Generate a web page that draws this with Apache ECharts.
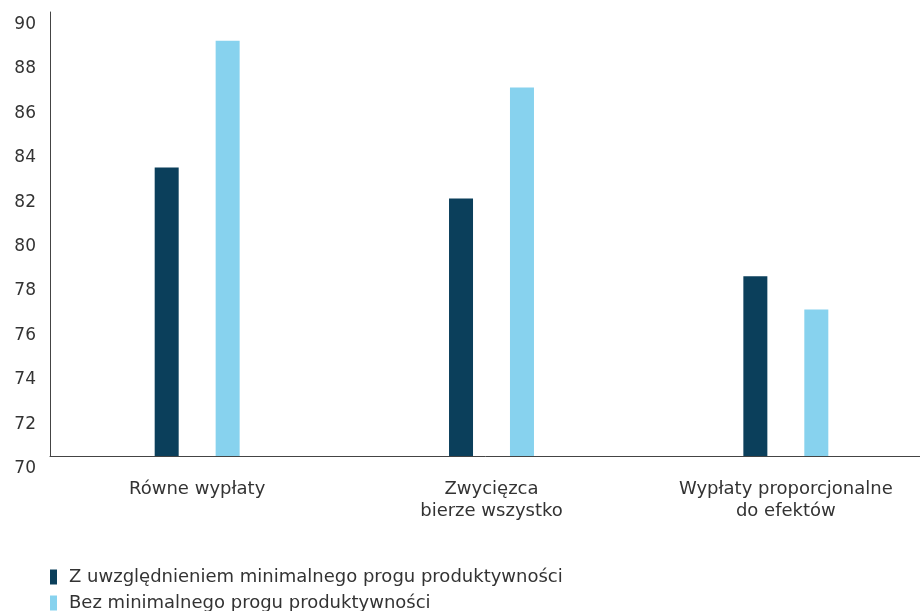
<!DOCTYPE html>
<html>
<head>
<meta charset="utf-8">
<script src="https://cdn.jsdelivr.net/npm/echarts@6/dist/echarts.min.js"></script>
<style>
  html, body { margin: 0; padding: 0; background: #fff; }
  #chart { width: 920px; height: 611px; }
</style>
</head>
<body>
<div id="chart"></div>
<script>
const categories = ['Równe wypłaty', 'Zwycięzca\nbierze wszystko', 'Wypłaty proporcjonalne\ndo efektów'];
const seriesNames = ['Z uwzględnieniem minimalnego progu produktywności', 'Bez minimalnego progu produktywności'];
const withThreshold = [83.0, 81.6, 78.1];
const withoutThreshold = [88.7, 86.6, 76.6];

const FONT = 'DejaVu Sans';
const myChart = echarts.init(document.getElementById('chart'));

// jedna legenda na wiersz, zeby nie zawijalo
const legendRow = (name, top) => ({
    left: 50,
    top: top,
    padding: 0,
    itemWidth: 7,
    itemHeight: 15,
    icon: 'rect',
    textStyle: { color: '#333', fontSize: 18, fontFamily: FONT, padding: [0, 0, 0, 7] },
    data: [name]
});

const option = {
    animation: false,
    textStyle: { fontFamily: FONT },
    grid: {
        left: 50,
        right: -13,
        top: 12,
        bottom: 155,
        outerBoundsMode: 'none'
    },
    legend: [
        legendRow(seriesNames[0], 568),
        legendRow(seriesNames[1], 594)
    ],
    xAxis: {
        type: 'category',
        data: categories,
        axisLine: { show: true, lineStyle: { color: '#444', width: 1 } },
        axisTick: { show: false },
        axisLabel: {
            color: '#333',
            fontSize: 18,
            fontFamily: FONT,
            margin: 22,
            lineHeight: 22
        }
    },
    yAxis: {
        type: 'value',
        min: 70,
        max: 90,
        interval: 2,
        axisLine: { show: true, lineStyle: { color: '#444', width: 1 } },
        axisTick: { show: false },
        splitLine: { show: false },
        axisLabel: {
            color: '#333',
            fontSize: 17,
            fontFamily: FONT,
            margin: 14,
            verticalAlign: 'top',
            padding: [4, 0, 0, 0]
        }
    },
    series: [
        {
            name: seriesNames[0],
            type: 'bar',
            data: withThreshold,
            barWidth: 24,
            barGap: '154%',
            itemStyle: { color: '#0b3f5b' }
        },
        {
            name: seriesNames[1],
            type: 'bar',
            data: withoutThreshold,
            barWidth: 24,
            itemStyle: { color: '#87d2ee' }
        }
    ]
};
myChart.setOption(option);
window.addEventListener('resize', () => {
    myChart.resize();
});
</script>
</body>
</html>
